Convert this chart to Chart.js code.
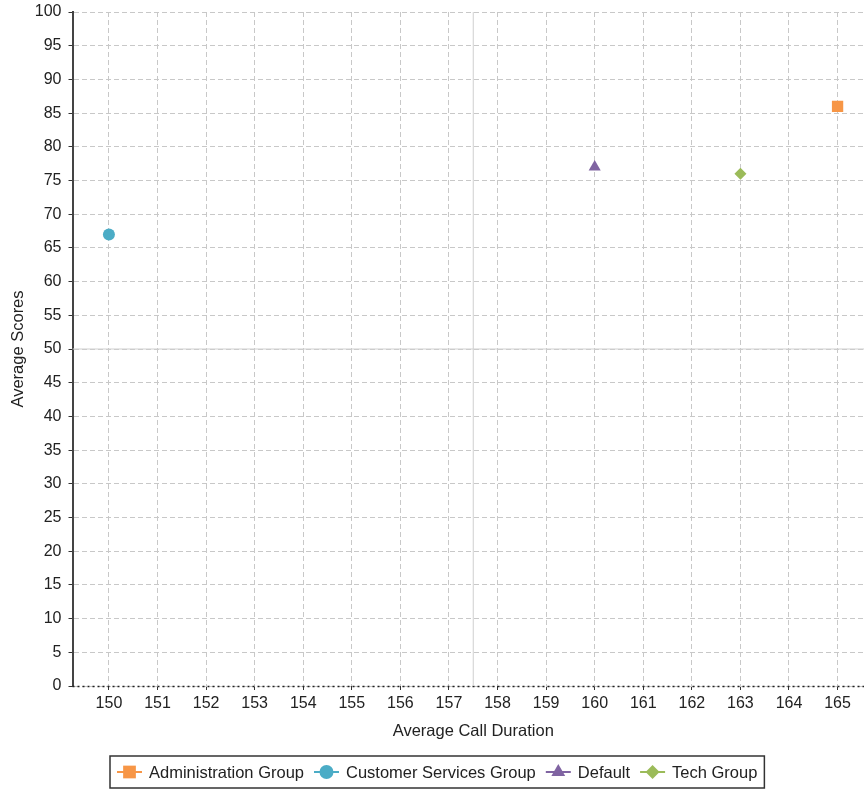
<!DOCTYPE html>
<html>
<head>
<meta charset="utf-8">
<title>Average Scores by Call Duration</title>
<script src="https://cdn.jsdelivr.net/npm/chart.js@4.4.1/dist/chart.umd.min.js"></script>
<style>
	html, body { margin: 0; padding: 0; background: #fff; overflow: hidden; }
	#mycanvas { display: block; }
</style>
</head>
<body>
<canvas id="mycanvas" width="874" height="790"></canvas>
<script>
// groups and their averages
var groups = ['Administration Group', 'Customer Services Group', 'Default', 'Tech Group'];
var callDuration = [165, 150, 160, 163];
var avgScores = [86, 67, 77, 76];

// axis ticks
var xTicks = [150, 151, 152, 153, 154, 155, 156, 157, 158, 159, 160, 161, 162, 163, 164, 165];
var yTicks = [0, 5, 10, 15, 20, 25, 30, 35, 40, 45, 50, 55, 60, 65, 70, 75, 80, 85, 90, 95, 100];
var xMin = 149.25;
var xMax = 165.75;

// quadrant split
var midDuration = 157.5;
var midScore = 50;

var groupColors = ['#f79646', '#4bacc6', '#8064a2', '#9bbb59'];
var groupShapes = ['rect', 'circle', 'triangle', 'rectRot'];
var groupRadius = [8, 6, 7, 6];

var fontFamily = '"Liberation Sans", Arial, sans-serif';
Chart.defaults.font.family = fontFamily;
Chart.defaults.color = '#222';

var datasets = [];
for (var i in groups) {
	datasets.push({
		label: groups[i],
		data: [{x: callDuration[i], y: avgScores[i]}],
		pointStyle: groupShapes[i],
		pointRadius: groupRadius[i],
		pointHoverRadius: groupRadius[i],
		backgroundColor: groupColors[i],
		borderColor: groupColors[i],
		borderWidth: 0,
		pointBorderWidth: 0,
		order: 0
	});
}

// quadrant lines
datasets.push({
	type: 'line',
	label: 'midX',
	data: [{x: midDuration, y: yTicks[0]}, {x: midDuration, y: yTicks[yTicks.length - 1]}],
	borderColor: '#cfcfcf',
	borderWidth: 1,
	pointRadius: 0,
	order: 1
});
datasets.push({
	type: 'line',
	label: 'midY',
	data: [{x: xMin, y: midScore}, {x: xMax, y: midScore}],
	borderColor: '#cfcfcf',
	borderWidth: 1,
	pointRadius: 0,
	order: 1
});

// dotted x axis line at zero
var zeroLine = {
	id: 'zeroLine',
	beforeDatasetsDraw: function(chart) {
		var ctx = chart.ctx;
		var area = chart.chartArea;
		var y0 = Math.round(chart.scales.y.getPixelForValue(0)) + 0.5;
		ctx.save();
		ctx.setLineDash([2, 3]);
		ctx.strokeStyle = '#222';
		ctx.lineWidth = 1.5;
		ctx.beginPath();
		ctx.moveTo(area.left, y0);
		ctx.lineTo(area.right, y0);
		ctx.stroke();
		ctx.restore();
	}
};

// boxed legend with line + marker symbols
var legendBox = {
	id: 'legendBox',
	afterDraw: function(chart) {
		var ctx = chart.ctx;
		var lineLen = 25, gap = 7, itemGap = 10, pad = 7;
		var boxH = 32;
		var top = chart.height - boxH - 2;
		var cy = top + boxH / 2;
		ctx.save();
		ctx.font = '16.5px ' + fontFamily;
		var widths = [];
		var total = 0;
		for (var i = 0; i < groups.length; i++) {
			var w = lineLen + gap + ctx.measureText(groups[i]).width;
			widths.push(w);
			total += w;
		}
		total += itemGap * (groups.length - 1);
		var x = Math.round(chart.width / 2 - total / 2);

		ctx.strokeStyle = '#333';
		ctx.lineWidth = 1.5;
		ctx.strokeRect(x - pad, top, total + pad * 2, boxH);

		for (var j = 0; j < groups.length; j++) {
			ctx.strokeStyle = groupColors[j];
			ctx.fillStyle = groupColors[j];
			ctx.lineWidth = 2;
			ctx.beginPath();
			ctx.moveTo(x, cy);
			ctx.lineTo(x + lineLen, cy);
			ctx.stroke();
			Chart.helpers.drawPoint(ctx, {pointStyle: groupShapes[j], radius: groupRadius[j] + 1, rotation: 0, borderWidth: 0}, x + lineLen / 2, cy);

			ctx.fillStyle = '#222';
			ctx.textBaseline = 'middle';
			ctx.textAlign = 'left';
			ctx.fillText(groups[j], x + lineLen + gap, cy + 1);
			x += widths[j] + itemGap;
		}
		ctx.restore();
	}
};

var ctx = document.getElementById('mycanvas');

var scatterChart = new Chart(ctx, {
	type: 'scatter',
	data: {datasets: datasets},
	plugins: [zeroLine, legendBox],
	options: {
		responsive: false,
		animation: false,
		devicePixelRatio: 1,
		layout: {
			autoPadding: false,
			padding: {top: 12, right: 0, bottom: 49.1, left: 0}
		},
		plugins: {
			legend: {display: false},
			title: {display: false},
			tooltip: {enabled: false}
		},
		scales: {
			x: {
				type: 'linear',
				min: xMin,
				max: xMax,
				afterBuildTicks: function(axis) {
					axis.ticks = xTicks.map(function(v) { return {value: v}; });
				},
				afterFit: function(axis) {
					axis.height = 54.9;
					axis.paddingLeft = 0;
					axis.paddingRight = 0;
				},
				ticks: {padding: 4, color: '#222', font: {size: 16}},
				grid: {color: '#c8c8c8', lineWidth: 1, tickLength: 4, tickColor: '#333'},
				border: {display: false, dash: [5, 3]},
				title: {
					display: true,
					text: 'Average Call Duration',
					color: '#222',
					font: {size: 16.5},
					padding: {top: 0, bottom: 0}
				}
			},
			y: {
				type: 'linear',
				min: 0,
				max: 100,
				afterBuildTicks: function(axis) {
					axis.ticks = yTicks.map(function(v) { return {value: v}; });
				},
				afterFit: function(axis) {
					axis.width = 72.5;
					axis.paddingTop = 0;
					axis.paddingBottom = 0;
				},
				ticks: {padding: 7, color: '#222', font: {size: 16}},
				grid: {color: '#c8c8c8', lineWidth: 1, tickLength: 4, tickColor: '#333'},
				border: {display: true, color: '#444', width: 2, dash: [5, 3]},
				title: {
					display: true,
					text: 'Average Scores',
					color: '#222',
					font: {size: 16.5},
					padding: {top: 8.5, bottom: 0}
				}
			}
		}
	}
});
</script>
</body>
</html>
